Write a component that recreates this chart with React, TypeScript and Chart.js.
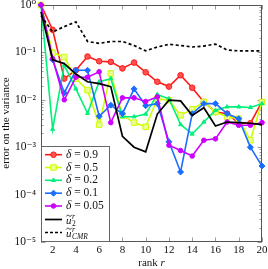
import React, { useEffect, useRef } from 'react';
import { Chart, registerables } from 'chart.js';

Chart.register(...registerables);

// ---------- data ----------
const ranks = [1, 2, 3, 4, 5, 6, 7, 8, 9, 10, 11, 12, 13, 14, 15, 16, 17, 18, 19, 20];

const delta09 = [1, 0.3, 0.028, 0.042, 0.082, 0.065, 0.063, 0.046, 0.061, 0.038, 0.024, 0.019, 0.033, 0.018, 0.009, 0.0055, 0.0051, 0.0032, 0.0032, 0.009];
const delta05 = [1, 0.098, 0.08, 0.028, 0.016, 0.003, 0.036, 0.0047, 0.0033, 0.0027, 0.0105, 0.0098, 0.0047, 0.0063, 0.009, 0.0055, 0.0044, 0.004, 0.0014, 0.009];
const delta02 = [1, 0.0024, 0.054, 0.017, 0.0052, 0.024, 0.028, 0.0044, 0.0044, 0.005, 0.013, 0.0105, 0.003, 0.0019, 0.0034, 0.006, 0.0071, 0.0071, 0.0069, 0.0083];
const delta01 = [1, 0.07, 0.014, 0.042, 0.042, 0.0045, 0.0077, 0.0051, 0.017, 0.0075, 0.0083, 0.0013, 0.0003, 0.0051, 0.0083, 0.0083, 0.0051, 0.004, 0.001, 0.0004];
const delta005 = [1, 0.074, 0.01, 0.03, 0.03, 0.039, 0.0033, 0.011, 0.011, 0.0092, 0.0115, 0.0011, 0.00085, 0.00065, 0.0014, 0.0015, 0.0034, 0.0029, 0.0029, 0.0033];
const u2 = [0.72, 0.07, 0.058, 0.035, 0.024, 0.022, 0.019, 0.0017, 0.001, 0.0008, 0.005, 0.0098, 0.0095, 0.0047, 0.0068, 0.0028, 0.0034, 0.0033, 0.0032, 0.003];
const uCMR = [0.6, 0.27, 0.35, 0.44, 0.17, 0.155, 0.17, 0.17, 0.14, 0.108, 0.13, 0.148, 0.14, 0.13, 0.136, 0.15, 0.112, 0.108, 0.108, 0.108];

const deltaLabels = ['0.9', '0.5', '0.2', '0.1', '0.05'];
const yTickValues = [1, 0.1, 0.01, 0.001, 0.0001, 0.00001];
const yTickLabels = ['10⁰', '10⁻¹', '10⁻²', '10⁻³', '10⁻⁴', '10⁻⁵'];
const xTickValues = [2, 4, 6, 8, 10, 12, 14, 16, 18, 20];
const xTitleText = 'rank ';
const xTitleVar = 'r';
const yTitleText = 'error on the variance';

// ---------- styles ----------
const FONT = '"Liberation Serif", "DejaVu Serif", serif';
const deltaSeries = [delta09, delta05, delta02, delta01, delta005];
const deltaStyles = [
  { color: '#ff1a1a', fill: '#ff5050', marker: 'circle', r: 2.8 },
  { color: '#ccff00', fill: '#eaff90', marker: 'rect', r: 3.9 },
  { color: '#00f07a', fill: '#00f07a', marker: 'triangle', r: 2.3 },
  { color: '#1a6dff', fill: '#1a6dff', marker: 'rectRot', r: 3.0 },
  { color: '#cc00ff', fill: '#cc00ff', marker: 'circle', r: 2.3 },
];

const pts = (vals: number[]) => vals.map((v, i) => ({ x: ranks[i], y: v }));

function drawMarker(ctx: CanvasRenderingContext2D, style: string, x: number, y: number, r: number, fill: string, stroke: string) {
  ctx.beginPath();
  if (style === 'circle') ctx.arc(x, y, r, 0, Math.PI * 2);
  else if (style === 'rect') {
    const s = r * Math.SQRT1_2;
    ctx.rect(x - s, y - s, 2 * s, 2 * s);
  } else if (style === 'rectRot') {
    ctx.moveTo(x, y - r); ctx.lineTo(x + r, y); ctx.lineTo(x, y + r); ctx.lineTo(x - r, y); ctx.closePath();
  } else if (style === 'triangle') {
    ctx.moveTo(x, y - r); ctx.lineTo(x + r * 0.866, y + r * 0.5); ctx.lineTo(x - r * 0.866, y + r * 0.5); ctx.closePath();
  }
  ctx.fillStyle = fill; ctx.fill();
  ctx.strokeStyle = stroke; ctx.lineWidth = 1; ctx.stroke();
}

function drawTildeU(ctx: CanvasRenderingContext2D, x: number, y: number, sub: string, subItalic: boolean) {
  ctx.fillStyle = '#111';
  ctx.textBaseline = 'alphabetic';
  ctx.textAlign = 'left';
  ctx.font = `italic 11px ${FONT}`;
  ctx.fillText('u', x, y + 4);
  const w = ctx.measureText('u').width;
  ctx.beginPath();
  ctx.strokeStyle = '#111';
  ctx.lineWidth = 0.8;
  const ty = y - 4;
  ctx.moveTo(x + 0.2, ty + 1);
  ctx.bezierCurveTo(x + 1.5, ty - 1.2, x + 3, ty - 0.5, x + w / 2 + 0.3, ty + 0.3);
  ctx.bezierCurveTo(x + w - 1.5, ty + 1.4, x + w - 0.5, ty + 0.5, x + w + 0.6, ty - 0.8);
  ctx.stroke();
  ctx.font = `italic 8px ${FONT}`;
  ctx.fillText('r', x + w + 0.5, y - 0.5);
  ctx.font = `${subItalic ? 'italic ' : ''}7.5px ${FONT}`;
  ctx.fillText(sub, x + w + 0.5, y + 6.5);
}

const decorPlugin = {
  id: 'decor',
  beforeDatasetsDraw(chart: any) {
    const { ctx, chartArea, scales } = chart;
    const { left, right, top, bottom } = chartArea;
    const y = scales.y, x = scales.x;
    ctx.save();
    ctx.lineWidth = 1;
    ctx.strokeStyle = '#9a9a9a';
    const line = (x1: number, y1: number, x2: number, y2: number) => {
      ctx.beginPath(); ctx.moveTo(x1, y1); ctx.lineTo(x2, y2); ctx.stroke();
    };
    for (let e = -5; e < 0; e++) {
      for (let m = 2; m <= 9; m++) {
        const py = Math.round(y.getPixelForValue(m * Math.pow(10, e))) + 0.5;
        line(left, py, left + 2.5, py);
        line(right, py, right - 2.5, py);
      }
    }
    yTickValues.forEach((v) => {
      const py = Math.round(y.getPixelForValue(v)) + 0.5;
      line(left, py, left + 4.5, py);
      line(right, py, right - 4.5, py);
    });
    xTickValues.forEach((v) => {
      const px = Math.round(x.getPixelForValue(v)) + 0.5;
      line(px, bottom, px, bottom - 4.5);
      line(px, top, px, top + 4.5);
    });
    ctx.strokeStyle = '#555';
    ctx.strokeRect(Math.round(left) + 0.5, Math.round(top) + 0.5, Math.round(right - left) - 1, Math.round(bottom - top) - 1);
    ctx.restore();
  },
  afterDatasetsDraw(chart: any) {
    const { ctx, chartArea } = chart;
    const bx = chartArea.left, by = 146.5, bw = 68, bh = chartArea.bottom - 146.5;
    ctx.save();
    ctx.fillStyle = '#fff';
    ctx.fillRect(bx, by, bw, bh);
    ctx.strokeStyle = '#666';
    ctx.lineWidth = 1;
    ctx.strokeRect(Math.round(bx) + 0.5, by, bw, bh - 0.5);
    const rowY = [154.7, 167.5, 180.3, 193.2, 206, 219.5, 232.5];
    const sx1 = 45, sx2 = 62, tx = 66;
    deltaLabels.forEach((lab, i) => {
      const st = deltaStyles[i];
      const yy = rowY[i];
      ctx.strokeStyle = st.color;
      ctx.lineWidth = 1.6;
      ctx.beginPath(); ctx.moveTo(sx1, yy); ctx.lineTo(sx2, yy); ctx.stroke();
      drawMarker(ctx, st.marker, (sx1 + sx2) / 2, yy, st.r, st.fill, st.color);
      ctx.fillStyle = '#111';
      ctx.textBaseline = 'middle';
      ctx.textAlign = 'left';
      ctx.font = `italic 11.5px ${FONT}`;
      ctx.fillText('δ', tx, yy);
      const w = ctx.measureText('δ').width;
      ctx.font = `11.5px ${FONT}`;
      ctx.fillText(' = ' + lab, tx + w, yy);
    });
    ctx.strokeStyle = '#000';
    ctx.lineWidth = 1.7;
    ctx.setLineDash([]);
    ctx.beginPath(); ctx.moveTo(sx1, rowY[5]); ctx.lineTo(sx2, rowY[5]); ctx.stroke();
    drawTildeU(ctx, tx, rowY[5], '2', false);
    ctx.strokeStyle = '#000';
    ctx.lineWidth = 1.7;
    ctx.setLineDash([3, 2]);
    ctx.beginPath(); ctx.moveTo(sx1, rowY[6]); ctx.lineTo(sx2, rowY[6]); ctx.stroke();
    ctx.setLineDash([]);
    drawTildeU(ctx, tx, rowY[6], 'CMR', true);
    ctx.restore();
  },
  afterDraw(chart: any) {
    const { ctx, chartArea } = chart;
    ctx.save();
    ctx.fillStyle = '#111';
    ctx.font = `11px ${FONT}`;
    ctx.textAlign = 'center';
    ctx.textBaseline = 'middle';
    ctx.translate(6, 123);
    ctx.rotate(-Math.PI / 2);
    ctx.fillText(yTitleText, 0, 0);
    ctx.restore();
    ctx.save();
    ctx.fillStyle = '#111';
    ctx.textBaseline = 'middle';
    ctx.textAlign = 'left';
    ctx.font = `11px ${FONT}`;
    const wa = ctx.measureText(xTitleText).width;
    ctx.font = `italic 11px ${FONT}`;
    const wb = ctx.measureText(xTitleVar).width;
    const cx = (chartArea.left + chartArea.right) / 2;
    const x0 = cx - (wa + wb) / 2;
    ctx.font = `11px ${FONT}`;
    ctx.fillText(xTitleText, x0, 263);
    ctx.font = `italic 11px ${FONT}`;
    ctx.fillText(xTitleVar, x0 + wa, 263);
    ctx.restore();
  },
};

export default function App() {
  const ref = useRef<HTMLCanvasElement>(null);
  useEffect(() => {
    if (!ref.current) return;
    const datasets: any[] = deltaSeries.map((vals, i) => {
      const st = deltaStyles[i];
      return {
        label: 'δ = ' + deltaLabels[i],
        data: pts(vals),
        borderColor: st.color,
        backgroundColor: st.fill,
        pointBackgroundColor: st.fill,
        pointBorderColor: st.color,
        pointStyle: st.marker,
        pointRadius: st.r,
        pointBorderWidth: 1,
        borderWidth: 1.6,
        tension: 0,
        clip: false,
        order: 20 - i,
      };
    });
    datasets.push({
      label: 'u2',
      data: pts(u2),
      borderColor: '#000',
      borderWidth: 1.7,
      pointRadius: 0,
      tension: 0,
      clip: false,
      order: 10,
    });
    datasets.push({
      label: 'uCMR',
      data: pts(uCMR),
      borderColor: '#000',
      borderWidth: 1.7,
      borderDash: [3, 2.5],
      pointRadius: 0,
      tension: 0,
      clip: false,
      order: 9,
    });
    const chart = new Chart(ref.current, {
      type: 'line',
      data: { datasets },
      options: {
        animation: false,
        responsive: false,
        devicePixelRatio: 1,
        layout: { padding: { left: 0, top: 5, right: 6, bottom: 0 } },
        plugins: { legend: { display: false }, tooltip: { enabled: false } },
        scales: {
          x: {
            type: 'linear',
            min: 1,
            max: 20,
            grid: { display: false, drawTicks: false },
            border: { display: false },
            afterBuildTicks: (s: any) => { s.ticks = xTickValues.map((v) => ({ value: v })); },
            afterFit: (s: any) => { s.height = 27; s.paddingLeft = 0; s.paddingRight = 0; },
            ticks: {
              padding: 2,
              maxRotation: 0,
              color: '#111',
              font: { family: FONT, size: 11 },
              callback: (v: any) => String(v),
            },
          },
          y: {
            type: 'logarithmic',
            min: 0.00001,
            max: 1,
            grid: { display: false, drawTicks: false },
            border: { display: false },
            afterBuildTicks: (s: any) => { s.ticks = yTickValues.map((v) => ({ value: v })); },
            afterFit: (s: any) => { s.width = 41; s.paddingTop = 0; s.paddingBottom = 0; },
            ticks: {
              padding: 5,
              color: '#111',
              font: { family: FONT, size: 11.5 },
              callback: (v: any) => yTickLabels[Math.round(-Math.log10(Number(v)))],
            },
          },
        },
      },
      plugins: [decorPlugin],
    } as any);
    return () => chart.destroy();
  }, []);
  return (
    <div style={{ position: 'absolute', left: 0, top: 0, width: 268, height: 269, background: '#fff' }}>
      <canvas ref={ref} width={268} height={269} style={{ display: 'block', width: 268, height: 269 }} />
    </div>
  );
}
